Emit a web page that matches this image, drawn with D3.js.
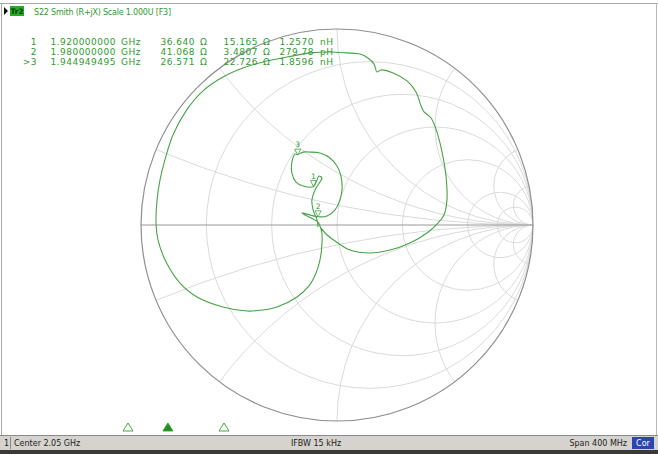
<!DOCTYPE html>
<html>
<head>
<meta charset="utf-8">
<script src="https://cdn.jsdelivr.net/npm/d3@7/dist/d3.min.js"></script>
<style>
  body { margin: 0; background: #fff; }
  svg { display: block; font-family: "DejaVu Sans", sans-serif; }
</style>
</head>
<body>
<svg id="chart" width="658" height="454"></svg>
<script>
// S22 trace, reflection coefficient (real / imag), in sweep order
const traceRe = [-0.097, -0.102, -0.122, -0.128, -0.112, -0.087, -0.077, -0.092, -0.102, -0.120,
  -0.173, -0.209, -0.230, -0.230, -0.214, -0.200, -0.173, -0.138, -0.087, -0.036,
  0.000, 0.020, 0.026, 0.015, -0.010, -0.051, -0.097, -0.179, -0.097, -0.087,
  -0.077, -0.077, -0.087, -0.107, -0.143, -0.204, -0.306, -0.383, -0.459, -0.582,
  -0.714, -0.801, -0.872, -0.913, -0.923, -0.918, -0.903, -0.878, -0.837, -0.770,
  -0.684, -0.582, -0.480, -0.378, -0.255, -0.138, -0.036, 0.051, 0.117, 0.158,
  0.189, 0.204, 0.224, 0.286, 0.357, 0.403, 0.429, 0.444, 0.480, 0.510,
  0.536, 0.556, 0.561, 0.546, 0.515, 0.459, 0.372, 0.270, 0.168, 0.066,
  -0.010, -0.056, -0.082];
const traceIm = [-0.010, 0.026, 0.077, 0.128, 0.179, 0.219, 0.240, 0.250, 0.230, 0.196,
  0.199, 0.219, 0.265, 0.321, 0.362, 0.360, 0.372, 0.372, 0.367, 0.342,
  0.301, 0.250, 0.189, 0.128, 0.077, 0.046, 0.042, 0.061, 0.015, -0.005,
  -0.041, -0.102, -0.179, -0.245, -0.311, -0.367, -0.418, -0.434, -0.439, -0.418,
  -0.367, -0.296, -0.189, -0.077, 0.000, 0.128, 0.230, 0.332, 0.459, 0.582,
  0.684, 0.755, 0.801, 0.832, 0.857, 0.878, 0.883, 0.878, 0.872, 0.852,
  0.821, 0.781, 0.791, 0.776, 0.735, 0.679, 0.607, 0.577, 0.546, 0.474,
  0.372, 0.250, 0.128, 0.051, 0.010, -0.041, -0.092, -0.128, -0.143, -0.128,
  -0.082, -0.046, -0.015];

// markers
const markerIds = ['1', '2', '3'];
const markerFreq = ['1.920000000', '1.980000000', '1.944949495'];
const markerR = [36.640, 41.068, 26.571];
const markerX = [15.165, 3.4807, 22.726];
const markerL = ['1.2570', '279.78', '1.8596'];
const markerLUnit = ['nH', 'pH', 'nH'];
const activeMarker = 2;

// grid values
const rGrid = [0.2, 0.5, 1, 2, 5, 10];
const xGrid = [0.2, 0.5, 1, 2, 5, 10];

const z0 = 50;
const sweepStart = 1.85, sweepStop = 2.25;   // GHz (center 2.05, span 400 MHz)

const width = 658;
const height = 454;
const cx = 337, cy = 225, rad = 196;

const svg = d3.select('#chart');

const x = d3.scaleLinear().domain([-1, 1]).range([cx - rad, cx + rad]);
const y = d3.scaleLinear().domain([-1, 1]).range([cy + rad, cy - rad]);
const len = v => x(v) - x(0);

const green = '#45a445';
const textGreen = '#2f9a2f';

// frame lines
svg.append('line').attr('x1', 0).attr('x2', width).attr('y1', 3.5).attr('y2', 3.5)
  .attr('stroke', '#a8a8a8');
svg.append('line').attr('x1', 1.5).attr('x2', 1.5).attr('y1', 3).attr('y2', 436)
  .attr('stroke', '#a8a8a8');
svg.append('line').attr('x1', 656.5).attr('x2', 656.5).attr('y1', 3).attr('y2', 436)
  .attr('stroke', '#b8b8b8');

// smith grid
svg.append('clipPath').attr('id', 'unit')
  .append('circle').attr('cx', x(0)).attr('cy', y(0)).attr('r', len(1));

const grid = svg.append('g').attr('clip-path', 'url(#unit)')
  .attr('fill', 'none').attr('stroke', '#dadada').attr('stroke-width', 1);

grid.selectAll('.rc')
  .data(rGrid)
  .enter()
  .append('circle')
  .attr('cx', function (r) { return x(r / (1 + r)); })
  .attr('cy', y(0))
  .attr('r', function (r) { return len(1 / (1 + r)); });

grid.selectAll('.xc')
  .data(xGrid.concat(xGrid.map(v => -v)))
  .enter()
  .append('circle')
  .attr('cx', x(1))
  .attr('cy', function (v) { return y(1 / v); })
  .attr('r', function (v) { return Math.abs(len(1 / v)); });

svg.append('line')
  .attr('x1', x(-1)).attr('x2', x(1))
  .attr('y1', y(0)).attr('y2', y(0))
  .attr('stroke', '#9a9a9a').attr('stroke-width', 1.2);

svg.append('circle')
  .attr('cx', x(0)).attr('cy', y(0)).attr('r', len(1))
  .attr('fill', 'none').attr('stroke', '#8f8f8f').attr('stroke-width', 1.2);

// trace
const trace = traceRe.map((d, i) => [d, traceIm[i]]);
const line = d3.line()
  .x(d => x(d[0]))
  .y(d => y(d[1]))
  .curve(d3.curveCatmullRom.alpha(0.5));

svg.append('path')
  .datum(trace)
  .attr('d', line)
  .attr('fill', 'none')
  .attr('stroke', green)
  .attr('stroke-width', 1.1);

// markers on the chart
function gamma (r, xv) {
  const a = r / z0, b = xv / z0;
  const nr = a - 1, ni = b, dr = a + 1, di = b;
  const dd = dr * dr + di * di;
  return [(nr * dr + ni * di) / dd, (ni * dr - nr * di) / dd];
}

const mk = svg.append('g').attr('fill', 'none').attr('stroke', green);
markerIds.forEach(function (id, i) {
  const g = gamma(markerR[i], markerX[i]);
  const px = x(g[0]), py = y(g[1]);
  mk.append('path')
    .attr('d', 'M' + px + ',' + py + 'l-3,-6h6z')
    .attr('stroke-width', 0.8);
  svg.append('text')
    .attr('x', px).attr('y', py - 8)
    .attr('text-anchor', 'middle')
    .attr('font-size', 7.5)
    .attr('fill', textGreen)
    .text(id);
});

// header
svg.append('path').attr('d', 'M4,7l4,4l-4,4z').attr('fill', '#111');
svg.append('rect').attr('x', 10).attr('y', 6).attr('width', 14).attr('height', 10)
  .attr('fill', '#22b022');
svg.append('text').attr('x', 17).attr('y', 14.3).attr('text-anchor', 'middle')
  .attr('font-size', 7.5).attr('font-weight', 'bold').attr('fill', '#0a3a0a').text('Tr2');
svg.append('text').attr('x', 34).attr('y', 14.5).attr('font-size', 8)
  .attr('letter-spacing', -0.2)
  .attr('fill', textGreen).text('S22 Smith (R+jX) Scale 1.000U [F3]');

// marker table
const table = svg.append('g').attr('font-size', 9).attr('letter-spacing', 0.5)
  .attr('fill', textGreen);
markerIds.forEach(function (id, i) {
  const ty = 44.5 + i * 10;
  table.append('text').attr('x', 37).attr('y', ty).attr('text-anchor', 'end')
    .text((i === activeMarker ? '>' : '') + id);
  table.append('text').attr('x', 116).attr('y', ty).attr('text-anchor', 'end').text(markerFreq[i]);
  table.append('text').attr('x', 121).attr('y', ty).text('GHz');
  table.append('text').attr('x', 195).attr('y', ty).attr('text-anchor', 'end')
    .text(markerR[i].toFixed(3));
  table.append('text').attr('x', 200).attr('y', ty).text('Ω');
  table.append('text').attr('x', 258).attr('y', ty).attr('text-anchor', 'end')
    .text(markerX[i] < 10 ? markerX[i].toFixed(4) : markerX[i].toFixed(3));
  table.append('text').attr('x', 263).attr('y', ty).text('Ω');
  table.append('text').attr('x', 314).attr('y', ty).attr('text-anchor', 'end').text(markerL[i]);
  table.append('text').attr('x', 320).attr('y', ty).text(markerLUnit[i]);
});

// stimulus axis marker indicators
const f = d3.scaleLinear().domain([sweepStart, sweepStop]).range([16, 656]);
markerIds.forEach(function (id, i) {
  const fx = f(+markerFreq[i]);
  svg.append('path')
    .attr('d', 'M' + fx + ',423l-5,8h10z')
    .attr('fill', i === activeMarker ? '#1f8f1f' : 'none')
    .attr('stroke', '#2f9f2f')
    .attr('stroke-width', 0.9);
});

// status bar
svg.append('rect').attr('x', 0).attr('y', 435).attr('width', width).attr('height', 15)
  .attr('fill', '#d6d3ce');
svg.append('line').attr('x1', 0).attr('x2', width).attr('y1', 435.5).attr('y2', 435.5)
  .attr('stroke', '#8a8a8a');
svg.append('rect').attr('x', 0).attr('y', 450).attr('width', width).attr('height', 4)
  .attr('fill', '#3a3a3a');
svg.append('line').attr('x1', 10.5).attr('x2', 10.5).attr('y1', 437).attr('y2', 449)
  .attr('stroke', '#888');

const status = svg.append('g').attr('font-size', 8).attr('fill', '#222');
status.append('text').attr('x', 4).attr('y', 446).text('1');
status.append('text').attr('x', 14).attr('y', 446).text('Center 2.05 GHz');
status.append('text').attr('x', 316).attr('y', 446).attr('text-anchor', 'middle').text('IFBW 15 kHz');
status.append('text').attr('x', 627).attr('y', 446).attr('text-anchor', 'end').text('Span 400 MHz');
svg.append('rect').attr('x', 632).attr('y', 437).attr('width', 22).attr('height', 12)
  .attr('fill', '#2b46b0');
svg.append('text').attr('x', 643).attr('y', 446).attr('text-anchor', 'middle')
  .attr('font-size', 8).attr('fill', '#fff').text('Cor');
</script>
</body>
</html>
